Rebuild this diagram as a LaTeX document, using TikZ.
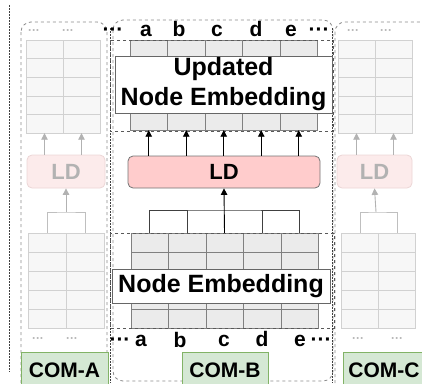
\documentclass[tikz,border=0pt]{standalone}
\usepackage{fontspec}
\setmainfont{Liberation Sans}
\definecolor{ldpink}{RGB}{255,204,204}
\definecolor{ldfade}{RGB}{252,235,235}
\definecolor{ldfadeedge}{RGB}{236,214,214}
\definecolor{comgreen}{RGB}{213,232,212}
\definecolor{comedge}{RGB}{130,179,102}
\usetikzlibrary{arrows.meta}
\usetikzlibrary{matrix}
\tikzset{
  emb/.style={
    matrix of nodes, nodes in empty cells,
    inner sep=0, row sep=-\pgflinewidth, column sep=-\pgflinewidth,
    nodes={draw=black!50, fill=black!8, minimum width=37.5pt, minimum height=18pt, inner sep=0},
    ampersand replacement=\&
  },
  fademb/.style={emb, nodes={draw=black!18, fill=black!3, minimum width=37pt}},
  embbox/.style={draw=black!60, fill=white, line width=0.8pt, align=center, inner sep=0,
    font=\fontsize{25}{30}\selectfont\bfseries},
  ldbox/.style={draw=black!55, fill=ldpink, rounded corners=5pt, line width=0.8pt,
    minimum height=32pt, font=\fontsize{22}{22}\selectfont\bfseries},
  ldfaded/.style={draw=ldfadeedge, fill=ldfade, rounded corners=5pt, line width=0.8pt,
    minimum height=33pt, text=black!30, font=\fontsize{22}{22}\selectfont\bfseries},
  combox/.style={draw=comedge, fill=comgreen, line width=0.8pt, minimum height=36pt,
    font=\fontsize{21}{21}\selectfont\bfseries},
  letter/.style={anchor=base, inner sep=0, font=\fontsize{21}{21}\selectfont\bfseries},
  fadedots/.style={anchor=base, inner sep=0, text=black!30, font=\fontsize{12}{12}\selectfont\bfseries},
  arrow/.style={-{Triangle[length=6.5pt,width=6.5pt]}, line width=0.9pt},
  fadearrow/.style={arrow, black!30},
  line/.style={line width=0.9pt, black!75},
  fadeline/.style={line width=0.9pt, black!25},
  colframe/.style={dashed, black!45, line width=0.8pt, rounded corners=10pt},
  gridbox/.style={dashed, black!65, line width=0.8pt},
  sepline/.style={black!75, line width=1pt, dash pattern=on 1.6pt off 1.4pt}
}
\begin{document}
\begin{tikzpicture}[x=1pt,y=-1pt]
\useasboundingbox (0,0) rectangle (422,383);
\clip (0,0) rectangle (422,383);

% frames of the three columns
\draw[colframe] (21,22) rectangle (107,400);
\draw[colframe] (113,20) rectangle (333,381);
\draw[colframe] (335,22) rectangle (440,400);
\draw[sepline] (9,5) -- (9,372);
\draw[sepline] (110,28) -- (110,383);
\draw[sepline] (332,28) -- (332,383);

% COM-A (faded)
\matrix (upA) [fademb, nodes={minimum height=18.6pt}] at (63,86.5) {
  \& \\
  \& \\
  \& \\
  \& \\
  \& \\
};
\node[ldfaded, minimum width=78pt] (ldA) at (66,171.5) {LD};
\matrix (lowA) [fademb, nodes={minimum width=38pt, minimum height=19pt}] at (66,280.5) {
  \& \\
  \& \\
  \& \\
  \& \\
  \& \\
};
\coordinate (joinA) at (66,212);
\draw[fadearrow] (upA-5-1.south |- ldA.north) -- (upA-5-1.south);
\draw[fadearrow] (upA-5-2.south |- ldA.north) -- (upA-5-2.south);
\draw[fadeline] (lowA-1-1.north) |- (joinA) -| (lowA-1-2.north);
\draw[fadearrow] (joinA) -- (ldA.south);
\node[fadedots] (dotsA1) at (34,34) {···};
\node[fadedots] (dotsA2) at (68,34) {···};
\node[fadedots] (dotsA3) at (38,342) {···};
\node[fadedots] (dotsA4) at (72,342) {···};
\node[combox, minimum width=87pt] (comA) at (64.5,370) {COM-A};

% COM-B
\matrix (upemb) [emb] at (223.75,85) {
  \& \& \& \& \\
  \& \& \& \& \\
  \& \& \& \& \\
  \& \& \& \& \\
  \& \& \& \& \\
};
\node[embbox, minimum width=217pt, minimum height=57pt] (upbox) at (223.5,84.5) {Updated\\Node Embedding};
\draw[gridbox] (110,40) rectangle (333,131);

\node[ldbox, minimum width=192pt] (ld) at (224,172) {LD};

\matrix (lowemb) [emb, nodes={minimum height=19pt}] at (224.5,280.5) {
  \& \& \& \& \\
  \& \& \& \& \\
  \& \& \& \& \\
  \& \& \& \& \\
  \& \& \& \& \\
};
\node[embbox, minimum width=218pt, minimum height=34pt] (lowbox) at (221,286) {Node Embedding};
\draw[gridbox] (110,233) rectangle (334,328);

\draw[arrow] (upemb-5-1.south |- ld.north) -- (upemb-5-1.south);
\draw[arrow] (upemb-5-2.south |- ld.north) -- (upemb-5-2.south);
\draw[arrow] (upemb-5-3.south |- ld.north) -- (upemb-5-3.south);
\draw[arrow] (upemb-5-4.south |- ld.north) -- (upemb-5-4.south);
\draw[arrow] (upemb-5-5.south |- ld.north) -- (upemb-5-5.south);

\coordinate (join) at (224,210);
\draw[line] (lowemb-1-1.north) |- (join) -| (lowemb-1-5.north);
\draw[line] (lowemb-1-2.north) -- (lowemb-1-2.north |- join);
\draw[line] (lowemb-1-4.north) -- (lowemb-1-4.north |- join);
\draw[arrow] (lowemb-1-3.north) -- (ld.south);

\node[letter] (topdl) at (113,36) {···};
\node[letter] (ta) at (146,36) {a};
\node[letter] (tb) at (179,36) {b};
\node[letter] (tc) at (217,36) {c};
\node[letter] (td) at (256,36) {d};
\node[letter] (te) at (291,36) {e};
\node[letter] (topdr) at (319,36) {···};

\node[letter] (botdl) at (120,346) {···};
\node[letter] (ba) at (141,346) {a};
\node[letter] (bb) at (180,347) {b};
\node[letter] (bc) at (224,346) {c};
\node[letter] (bd) at (262,346) {d};
\node[letter] (be) at (300,346) {e};
\node[letter] (botdr) at (321,346) {···};

\node[combox, minimum width=86pt] (comB) at (225,370) {COM-B};

% COM-C (faded)
\matrix (upC) [fademb, nodes={minimum height=18.6pt}] at (375,86.5) {
  \& \\
  \& \\
  \& \\
  \& \\
  \& \\
};
\node[ldfaded, minimum width=75pt] (ldC) at (374.5,171.5) {LD};
\matrix (lowC) [fademb, nodes={minimum height=19pt}] at (378.5,280.5) {
  \& \\
  \& \\
  \& \\
  \& \\
  \& \\
};
\coordinate (joinC) at (376,212);
\draw[fadearrow] (upC-5-1.south |- ldC.north) -- (upC-5-1.south);
\draw[fadearrow] (upC-5-2.south |- ldC.north) -- (upC-5-2.south);
\draw[fadeline] (lowC-1-1.north) |- (joinC) -| (lowC-1-2.north);
\draw[fadearrow] (joinC) -- (ldC.south);
\node[fadedots] (dotsC1) at (353,34) {···};
\node[fadedots] (dotsC2) at (386,34) {···};
\node[fadedots] (dotsC3) at (358,342) {···};
\node[fadedots] (dotsC4) at (397,342) {···};
\node[combox, minimum width=82pt] (comC) at (384,370) {COM-C};
\end{tikzpicture}
\end{document}
